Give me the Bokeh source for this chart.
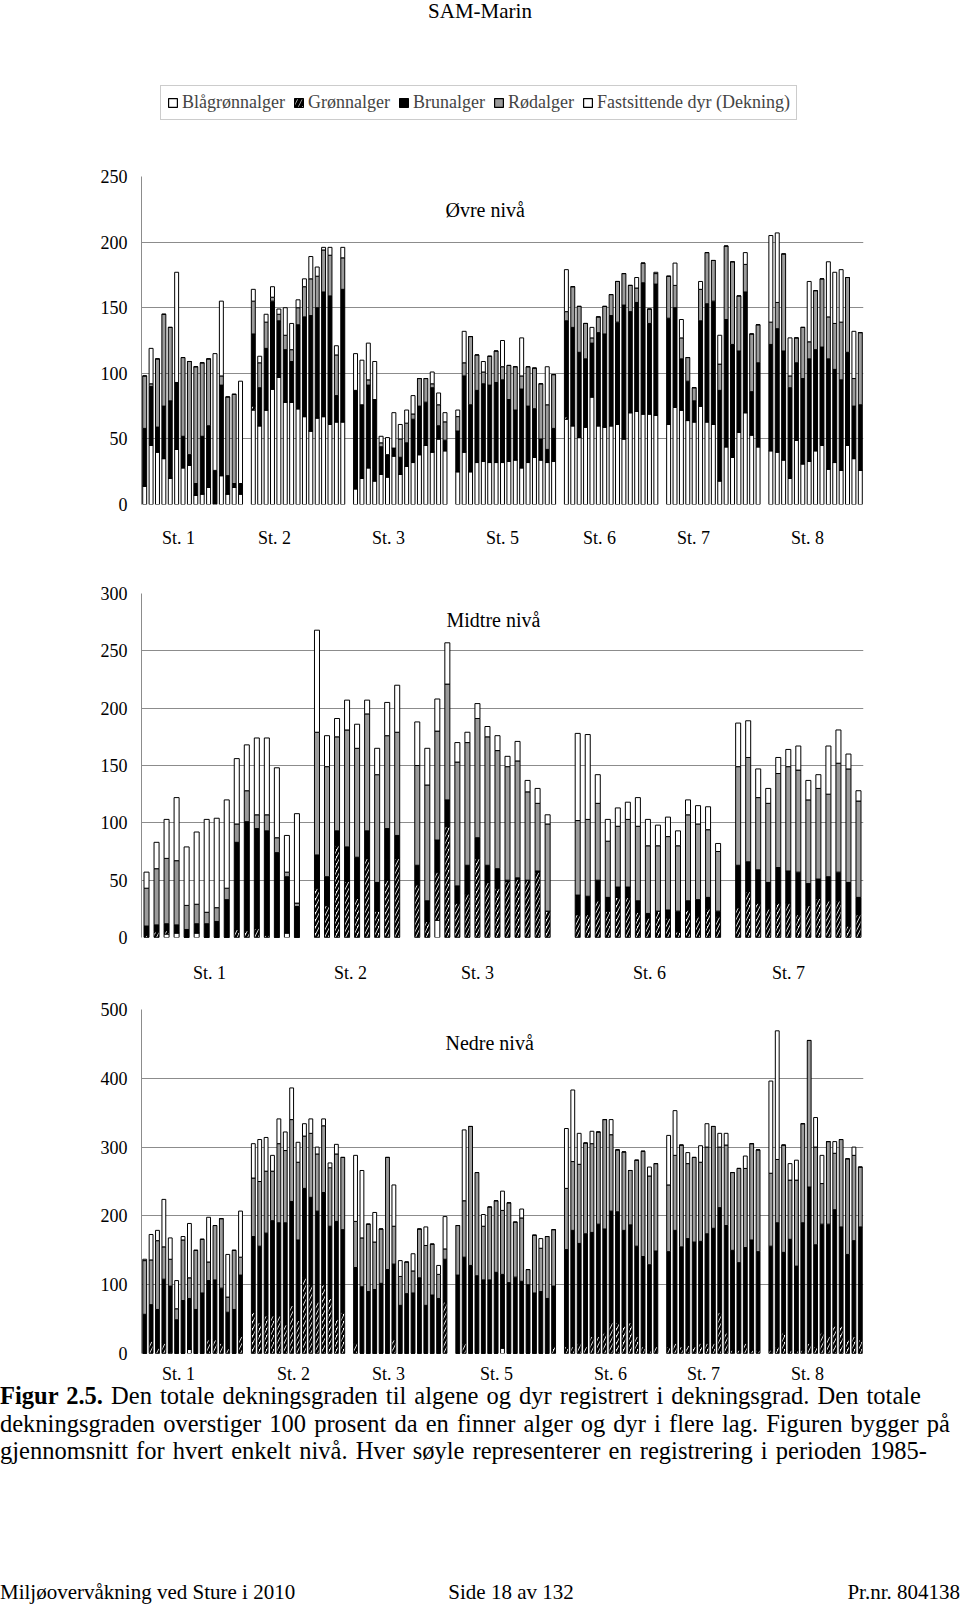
from bokeh.plotting import figure
from bokeh.models import ColumnDataSource, FixedTicker, Range1d, Label, Legend, LegendItem, Div
from bokeh.layouts import column
from bokeh.embed import file_html
from bokeh.resources import INLINE

FONT = "Liberation Serif"

# ---------------- data ----------------
series_names = ["Blågrønnalger", "Grønnalger", "Brunalger", "Rødalger", "Fastsittende dyr (Dekning)"]

# Øvre nivå
ovre_stations = ["St. 1", "St. 2", "St. 3", "St. 5", "St. 6", "St. 7", "St. 8"]
ovre_groups = [16, 15, 15, 16, 15, 15, 15]
ovre_blagronn = [14, 45, 40, 35, 20, 42, 28, 30, 7, 8, 13, 1, 22, 8, 13, 8,
                 72, 60, 72, 88, 97, 78, 78, 73, 67, 56, 66, 67, 61, 63, 63,
                 12, 20, 28, 18, 23, 21, 37, 23, 29, 32, 38, 45, 40, 50, 41,
                 25, 40, 25, 32, 33, 32, 32, 32, 33, 34, 28, 32, 36, 34, 32, 33,
                 65, 60, 51, 59, 82, 60, 59, 60, 61, 50, 70, 71, 69, 69, 68,
                 61, 74, 72, 64, 63, 75, 63, 61, 18, 44, 36, 55, 70, 53, 44,
                 41, 40, 34, 20, 49, 31, 33, 41, 45, 27, 32, 26, 45, 35, 26]
ovre_gronn = [0] * 16 + [3] + [0] * 14 + [0] * 15 + [0] * 16 + [2] + [0] * 14 + [0] * 15 + [0] * 15
ovre_brun = [44, 45, 19, 40, 59, 51, 24, 8, 9, 44, 47, 25, 69, 14, 3, 8,
             55, 29, 47, 67, 43, 40, 31, 64, 76, 88, 84, 95, 98, 20, 101,
             75, 56, 63, 62, 21, 17, 6, 13, 18, 33, 37, 33, 49, 10, 8,
             31, 58, 51, 55, 59, 59, 61, 63, 47, 38, 60, 43, 37, 16, 10, 25,
             73, 75, 65, 52, 41, 71, 71, 84, 78, 102, 77, 83, 100, 69, 100,
             81, 76, 39, 30, 16, 65, 90, 94, 69, 97, 86, 62, 92, 33, 64,
             81, 94, 83, 69, 59, 65, 78, 77, 75, 84, 71, 69, 71, 40, 50]
ovre_rod = [40, 2, 52, 70, 56, 0, 60, 71, 89, 56, 51, 0, 7, 60, 68, 0,
            25, 19, 20, 3, 5, 11, 9, 13, 23, 28, 24, 32, 31, 31, 24,
            0, 0, 4, 0, 3, 0, 0, 14, 15, 4, 21, 18, 3, 16, 14,
            11, 10, 52, 27, 9, 22, 24, 10, 26, 33, 10, 30, 31, 42, 34, 41,
            7, 31, 35, 27, 4, 12, 21, 16, 31, 24, 20, 11, 15, 11, 8,
            32, 17, 16, 18, 10, 24, 39, 31, 20, 56, 63, 42, 21, 44, 29,
            17, 20, 74, 9, 19, 39, 13, 45, 52, 32, 35, 44, 57, 21, 55]
ovre_dyr = [0, 27, 0, 0, 0, 84, 0, 0, 0, 0, 0, 89, 57, 0, 0, 78,
            9, 5, 6, 8, 4, 21, 20, 6, 6, 17, 7, 2, 6, 7, 8,
            28, 34, 28, 29, 5, 13, 27, 11, 10, 14, 0, 0, 9, 9, 7,
            5, 24, 0, 0, 8, 0, 0, 20, 0, 0, 29, 0, 0, 0, 29, 0,
            32, 0, 0, 0, 8, 0, 0, 0, 0, 0, 0, 8, 0, 0, 1,
            0, 17, 14, 0, 0, 6, 0, 0, 22, 0, 0, 0, 9, 0, 0,
            66, 53, 0, 29, 0, 0, 46, 0, 0, 42, 39, 40, 0, 36, 0]

# Midtre nivå
midtre_stations = ["St. 1", "St. 2", "St. 3", "St. 6", "St. 7"]
midtre_groups = [16, 9, 14, 15, 13]
midtre_blagronn = [0, 0, 3, 4, 0, 4, 0, 0, 0, 0, 0, 0, 0, 0, 4, 0,
                   0, 0, 0, 0, 0, 0, 0, 0, 0,
                   0, 0, 15, 0, 0, 0, 0, 0, 0, 0, 0, 0, 0, 0,
                   0, 0, 0, 0, 0, 0, 0, 0, 0, 0, 0, 0, 0, 0, 0,
                   0, 0, 0, 0, 0, 0, 0, 0, 0, 0, 0, 0, 0]
midtre_gronn = [2, 5, 3, 0, 0, 0, 0, 0, 0, 7, 6, 8, 2, 0, 0, 0,
                43, 28, 80, 49, 34, 69, 23, 50, 69,
                46, 14, 42, 97, 30, 38, 69, 48, 43, 49, 51, 50, 57, 23,
                20, 20, 32, 23, 35, 35, 22, 17, 23, 17, 5, 24, 18, 25, 18,
                26, 40, 30, 25, 30, 30, 20, 28, 34, 32, 32, 10, 20]
midtre_brun = [8, 6, 6, 7, 7, 8, 12, 14, 33, 76, 95, 87, 91, 74, 49, 27,
               29, 25, 13, 30, 36, 24, 25, 45, 20,
               17, 18, 28, 23, 15, 25, 18, 15, 17, 1, 1, 0, 1, 0,
               17, 16, 18, 12, 9, 9, 10, 4, 0, 7, 18, 8, 15, 10, 5,
               37, 26, 29, 23, 31, 28, 37, 19, 17, 21, 25, 38, 15]
midtre_rod = [33, 49, 57, 56, 21, 17, 10, 12, 10, 16, 27, 12, 14, 13, 4, 3,
              107, 96, 82, 102, 95, 102, 94, 81, 90,
              87, 101, 95, 101, 108, 107, 104, 112, 103, 99, 102, 77, 59, 76,
              65, 67, 67, 49, 53, 59, 65, 59, 57, 64, 57, 75, 66, 59, 52,
              86, 91, 63, 69, 82, 91, 89, 73, 79, 72, 95, 99, 84]
midtre_dyr = [14, 23, 34, 55, 51, 63, 81, 78, 77, 57, 40, 67, 67, 61, 32, 78,
              89, 27, 16, 26, 21, 12, 23, 29, 41,
              38, 32, 28, 36, 17, 9, 13, 9, 13, 9, 17, 10, 13, 8,
              76, 74, 25, 19, 16, 15, 25, 23, 18, 17, 13, 13, 16, 20, 7,
              38, 32, 25, 13, 14, 15, 21, 17, 12, 42, 29, 13, 9]

# Nedre nivå
nedre_stations = ["St. 1", "St. 2", "St. 3", "St. 5", "St. 6", "St. 7", "St. 8"]
nedre_groups = [16, 15, 15, 16, 15, 15, 15]
nedre_blagronn = ([0, 0, 0, 0, 0, 0, 0, 6, 0, 0, 0, 0, 0, 0, 0, 0] + [0] * 15 + [0] * 15
                  + [0, 0, 0, 0, 0, 0, 0, 8, 0, 0, 0, 0, 0, 0, 0, 0] + [0] * 15 + [0] * 15 + [0] * 15)
nedre_gronn = [0, 18, 8, 15, 2, 0, 0, 0, 0, 0, 20, 20, 15, 7, 0, 25,
               60, 45, 55, 55, 55, 42, 70, 48, 110, 100, 75, 100, 80, 50, 60,
               15, 0, 0, 0, 0, 0, 20, 0, 0, 0, 0, 0, 0, 0, 75,
               0, 15, 0, 0, 0, 0, 0, 0, 0, 0, 0, 0, 0, 0, 0, 10,
               10, 10, 15, 10, 25, 25, 30, 45, 45, 40, 45, 25, 10, 5, 10,
               10, 15, 10, 12, 10, 15, 15, 15, 60, 30, 5, 5, 15, 5, 5,
               5, 10, 30, 5, 5, 5, 15, 10, 30, 25, 40, 40, 20, 25, 20]
nedre_brun = [57, 53, 56, 93, 96, 49, 77, 74, 64, 88, 86, 87, 80, 53, 64, 89,
              110, 111, 120, 138, 135, 148, 151, 117, 130, 127, 132, 134, 105, 142, 120,
              110, 97, 90, 93, 102, 122, 110, 70, 87, 88, 110, 70, 85, 80, 62,
              114, 125, 128, 113, 107, 107, 118, 107, 103, 111, 105, 100, 88, 90, 80, 88,
              141, 169, 145, 164, 151, 163, 151, 162, 161, 139, 142, 131, 131, 124, 139,
              138, 164, 145, 155, 152, 148, 159, 167, 152, 156, 145, 127, 139, 160, 143,
              151, 180, 117, 161, 122, 185, 227, 148, 158, 163, 169, 144, 124, 139, 164]
nedre_rod = [78, 65, 100, 47, 39, 16, 88, 30, 86, 78, 27, 79, 101, 22, 86, 26,
             85, 94, 90, 72, 115, 105, 119, 113, 76, 93, 83, 97, 85, 98, 105,
             67, 71, 98, 69, 79, 163, 55, 42, 46, 32, 71, 87, 74, 35, 15,
             72, 82, 202, 150, 78, 106, 104, 93, 116, 80, 92, 22, 84, 63, 90, 82,
             89, 100, 115, 132, 129, 134, 159, 111, 90, 114, 79, 125, 153, 129, 127,
             97, 109, 148, 109, 123, 115, 126, 148, 88, 117, 113, 137, 115, 140, 148,
             106, 92, 156, 86, 125, 144, 213, 142, 59, 120, 82, 127, 139, 124, 87]
nedre_dyr = [2, 37, 15, 69, 31, 41, 5, 79, 0, 0, 65, 0, 0, 62, 0, 67,
             50, 61, 49, 23, 36, 27, 46, 29, 18, 21, 10, 10, 7, 14, 0,
             96, 98, 0, 43, 0, 0, 60, 23, 0, 25, 0, 27, 0, 13, 47,
             0, 103, 0, 0, 17, 0, 0, 28, 0, 0, 13, 0, 0, 14, 0, 0,
             87, 104, 45, 0, 18, 0, 0, 22, 0, 0, 0, 0, 0, 13, 0,
             72, 65, 0, 16, 0, 24, 34, 0, 20, 17, 0, 0, 18, 0, 0,
             134, 187, 0, 24, 29, 0, 0, 43, 41, 0, 17, 0, 0, 12, 0]

# ---------------- layout / styles ----------------
KEYS = ["blagronn", "gronn", "brun", "rod", "dyr"]
FILLS = ["white", "white", "black", "#9b9b9b", "white"]
HATCH = [" ", "/", " ", " ", " "]
HSCALE = [6, 7, 6, 6, 6]
HWEIGHT = [1, 2.4, 1, 1, 1]
GRID = "#8c8c8c"
PAGE_W = 960
FRAME_L = 141
FRAME_R = 97
# page x-positions of the station captions (as placed in the original)
OVRE_LABEL_PX = [178, 274, 388, 502, 599, 693, 807]
MIDTRE_LABEL_PX = [209, 350, 477, 649, 788]
NEDRE_LABEL_PX = [178, 293, 388, 496, 610, 703, 807]


def make_chart(groups, gaps, stations, label_px, data, ymax, ystep, title, fig_top, height,
               top, bottom, bar_w, x_standoff, title_px):
    xs = []
    pos = 0
    for i, g in enumerate(groups):
        xs.extend(range(pos, pos + g))
        pos += g + (gaps[i] if i < len(gaps) else 0)
    nslots = pos
    fw = PAGE_W - FRAME_L - FRAME_R
    slot = fw / nslots
    src = ColumnDataSource(dict(x=xs, **{k: v for k, v in zip(KEYS, data)}))
    p = figure(width=PAGE_W, height=height, x_range=Range1d(-0.5, nslots - 0.5),
               y_range=Range1d(0, ymax), output_backend="svg", toolbar_location=None,
               min_border_left=FRAME_L, min_border_right=FRAME_R, min_border_top=top,
               min_border_bottom=bottom)
    p.outline_line_color = None
    p.background_fill_color = "white"
    p.vbar_stack(KEYS, x="x", width=bar_w, source=src, fill_color=FILLS,
                 line_color="black", line_width=1, hatch_pattern=HATCH,
                 hatch_color="black", hatch_scale=HSCALE, hatch_weight=HWEIGHT)
    yt = FixedTicker(ticks=list(range(0, ymax + 1, ystep)))
    p.yaxis.ticker = yt
    p.ygrid.ticker = yt
    p.xgrid.grid_line_color = None
    p.ygrid.grid_line_color = GRID
    p.ygrid.grid_line_width = 1
    p.yaxis.axis_line_color = GRID
    p.yaxis.major_tick_line_color = None
    p.yaxis.minor_tick_line_color = None
    p.yaxis.major_label_standoff = 8
    p.yaxis.major_label_text_font = FONT
    p.yaxis.major_label_text_font_size = "18px"
    p.yaxis.major_label_text_color = "black"
    tick_x = [round((px - FRAME_L) / slot - 0.5, 3) for px in label_px]
    p.xaxis.ticker = FixedTicker(ticks=tick_x)
    p.xaxis.major_label_overrides = {t: s for t, s in zip(tick_x, stations)}
    p.xaxis.axis_line_color = None
    p.xaxis.major_tick_line_color = None
    p.xaxis.minor_tick_line_color = None
    p.xaxis.major_label_standoff = x_standoff
    p.xaxis.major_label_text_font = FONT
    p.xaxis.major_label_text_font_size = "18px"
    p.xaxis.major_label_text_color = "black"
    # title position from page pixels
    fb = fig_top + height - bottom
    fh = height - top - bottom
    tx = (title_px[0] - FRAME_L) / slot - 0.5
    ty = (fb - title_px[1]) / fh * ymax
    p.add_layout(Label(x=tx, y=ty, text=title, text_font=FONT, text_font_size="20px",
                       text_baseline="middle", text_align="left", text_color="black"))
    return p


fig1 = make_chart(ovre_groups, [1] * 6, ovre_stations, OVRE_LABEL_PX,
                  [ovre_blagronn, ovre_gronn, ovre_brun, ovre_rod, ovre_dyr],
                  250, 50, "Øvre nivå", 140, 415, 36, 51, 0.62, 17, (445, 209))
fig2 = make_chart(midtre_groups, [1, 1, 2, 1], midtre_stations, MIDTRE_LABEL_PX,
                  [midtre_blagronn, midtre_gronn, midtre_brun, midtre_rod, midtre_dyr],
                  300, 50, "Midtre nivå", 555, 430, 38, 47, 0.5, 19, (446, 620))
fig3 = make_chart(nedre_groups, [1] * 6, nedre_stations, NEDRE_LABEL_PX,
                  [nedre_blagronn, nedre_gronn, nedre_brun, nedre_rod, nedre_dyr],
                  500, 100, "Nedre nivå", 985, 405, 24, 37, 0.6, 4, (445, 1042))

# ---------------- legend ----------------
leg = figure(width=PAGE_W, height=70, x_range=Range1d(0, 1), y_range=Range1d(0, 1),
             output_backend="svg", toolbar_location=None, x_axis_location=None,
             y_axis_location=None, min_border=0)
leg.outline_line_color = None
leg.grid.grid_line_color = None
leg_hatch = [" ", "/", " ", " ", " "]
items = []
for name, fc, hp in zip(series_names, FILLS, leg_hatch):
    # proxy glyphs, hidden behind the opaque legend box
    r = leg.vbar(x=[0.5], top=[0.55], bottom=[0.45], width=0.005, fill_color=fc,
                 line_color="black", line_width=1.2, hatch_pattern=hp, hatch_color="black",
                 hatch_scale=9, hatch_weight=3.5)
    items.append(LegendItem(label=name, renderers=[r]))
legend = Legend(items=items, orientation="horizontal", location=(160 - FRAME_L, 20),
                label_text_font=FONT, label_text_font_size="18px", glyph_width=11,
                glyph_height=11, label_standoff=4, spacing=8, padding=6, margin=0,
                border_line_color="#9a9a9a", border_line_width=1,
                background_fill_color="white", background_fill_alpha=1.0, label_height=18)
leg.add_layout(legend, "center")

# ---------------- texts ----------------
header = Div(text=('<div style="position:relative;top:-1px;left:0px;width:960px;'
                   "text-align:center;font-family:'Liberation Serif';font-size:21px;"
                   'line-height:24px;color:black;">SAM-Marin</div>'),
             width=PAGE_W, height=70, margin=0)

cap_lines = ["<b>Figur 2.5.</b> Den totale dekningsgraden til algene og dyr registrert i dekningsgrad. Den totale",
             "dekningsgraden overstiger 100 prosent da en finner alger og dyr i flere lag. Figuren bygger på",
             "gjennomsnitt for hvert enkelt nivå. Hver søyle representerer en registrering i perioden 1985-"]
caption = Div(text=('<div style="position:relative;top:-8px;left:0px;width:960px;white-space:nowrap;'
                    "font-family:'Liberation Serif';font-size:24.5px;line-height:27.5px;"
                    'word-spacing:2px;color:black;">'
                    + "<br>".join(cap_lines) + "</div>"),
              width=PAGE_W, height=90, margin=0)

footer = Div(text=('<div style="position:relative;top:100px;left:0px;width:960px;height:24px;'
                   "font-family:'Liberation Serif';font-size:21px;line-height:24px;color:black;white-space:nowrap;\">"
                   '<span style="position:absolute;left:0;">Miljøovervåkning ved Sture i 2010</span>'
                   '<span style="position:absolute;left:511px;transform:translateX(-50%);">Side 18 av 132</span>'
                   '<span style="position:absolute;right:0;">Pr.nr. 804138</span></div>'),
             width=PAGE_W, height=127, margin=0)

for f in (fig1, fig2, fig3, leg):
    f.margin = 0

page = column(header, leg, fig1, fig2, fig3, caption, footer, spacing=0)

open("out.html", "w").write(file_html(page, INLINE))
